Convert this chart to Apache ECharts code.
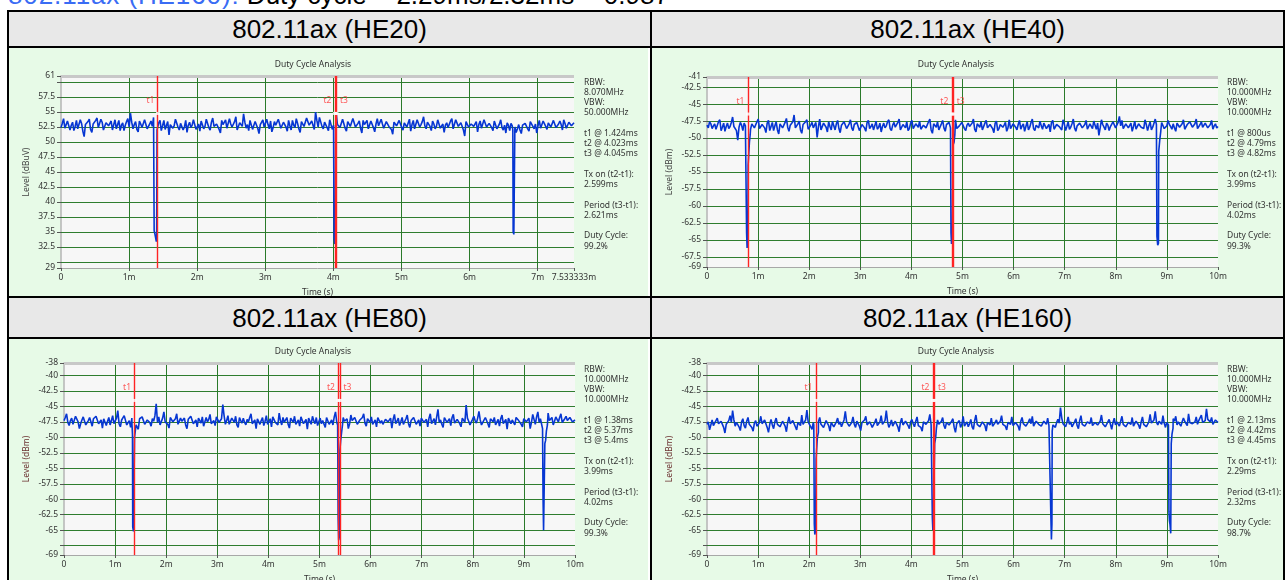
<!DOCTYPE html>
<html><head><meta charset="utf-8">
<script src="https://cdn.jsdelivr.net/npm/echarts@6/dist/echarts.min.js"></script>
<style>
html,body{margin:0;padding:0;background:#fff;}
#wrap{position:relative;width:1286px;height:580px;overflow:hidden;background:#fff;}
.ln{position:absolute;background:#000;}
.hdr{position:absolute;background:#e8e8e8;font:26px 'Liberation Sans',Arial,sans-serif;color:#000;text-align:center;}
.pnl{position:absolute;background:#e7fae7;}
#top{position:absolute;left:8px;top:-18px;font:26px 'Liberation Sans',Arial,sans-serif;line-height:26px;white-space:nowrap;color:#000;}
#top span{color:#3a6cf4;letter-spacing:0.9px;}
#c{position:absolute;left:0;top:0;width:1286px;height:580px;}
</style>
</head><body>
<div id="wrap">
  <div id="top"><span>802.11ax (HE160):</span> Duty cycle = 2.29ms/2.32ms = 0.987</div>
  <div class="hdr" style="left:9px;top:12px;width:641px;height:34px;line-height:34px;">802.11ax (HE20)</div>
  <div class="hdr" style="left:652px;top:12px;width:631px;height:34px;line-height:34px;">802.11ax (HE40)</div>
  <div class="hdr" style="left:9px;top:298px;width:641px;height:39px;line-height:40px;">802.11ax (HE80)</div>
  <div class="hdr" style="left:652px;top:298px;width:631px;height:39px;line-height:40px;">802.11ax (HE160)</div>
  <div class="pnl" style="left:9px;top:48px;width:639px;height:248px;"></div>
  <div class="pnl" style="left:652px;top:48px;width:631px;height:248px;"></div>
  <div class="pnl" style="left:9px;top:339px;width:639px;height:241px;"></div>
  <div class="pnl" style="left:652px;top:339px;width:631px;height:241px;"></div>
  <div class="ln" style="left:7px;top:10px;width:2px;height:570px;"></div>
  <div class="ln" style="left:650px;top:10px;width:2px;height:570px;"></div>
  <div class="ln" style="left:1283px;top:10px;width:2px;height:570px;"></div>
  <div class="ln" style="left:7px;top:10px;width:1278px;height:2px;"></div>
  <div class="ln" style="left:7px;top:46px;width:1278px;height:2px;"></div>
  <div class="ln" style="left:7px;top:296px;width:1278px;height:2px;"></div>
  <div class="ln" style="left:7px;top:337px;width:1278px;height:2px;"></div>
  <div id="c"></div>
</div>
<script>
// ---------- DATA ----------
// Each trace: even samples (…Level) and the odd samples between them (…LevelB)
const he20Span = 7.533333;
const he20Level = [
52.4,53.9,52.1,53.4,52.8,51.9,53.6,52.5,53.1,50.9,
52.7,53.8,51.6,52.9,54.0,52.3,53.3,51.8,53.5,52.6,
52.0,53.7,52.4,51.9,53.2,52.8,53.9,54.8,52.2,53.4,
51.7,53.0,52.5,53.8,52.1,53.5,54.1,52.6,53.2,51.9,
53.6,52.3,51.2,53.1,52.7,53.9,52.0,53.4,52.5,51.6,
53.3,52.8,53.9,52.2,51.8,53.5,52.6,53.1,52.0,54.0,
52.4,53.3,51.5,52.9,53.7,52.3,53.0,52.6,54.2,52.1,
53.5,54.7,52.3,51.9,53.4,52.8,53.6,51.4,53.0,52.5,
53.8,52.2,51.7,53.4,52.6,53.9,52.0,53.2,51.8,52.7,
53.6,52.4,53.1,51.6,53.5,52.3,54.1,52.7,53.3,55.0,
52.5,53.8,52.2,53.0,51.9,53.4,52.8,54.9,53.2,52.4,
53.7,51.8,53.1,52.6,54.0,52.2,53.5,51.5,52.9,53.6,
52.3,53.2,51.7,53.9,52.5,53.0,52.1,53.7,52.8,51.3,
53.4,52.6,53.9,52.0,53.3,52.7,51.8,53.6,52.4,53.1,
52.9,54.2,52.2,53.5,51.9,53.0,52.6,53.8,52.3,51.6,
53.2,52.7,53.9,52.1,53.4,52.5,53.0,51.0,53.6,52.4,
53.1,52.8,51.7,53.5,52.2,53.8,52.6,53.2,51.9,53.4,
52.3,53.7,52.0,51.5,52.8,53.1,52.4,51.6,52.9,51.4,
52.6,53.0,51.8,53.3,52.2,51.5,53.6,52.4,53.8,52.1,
53.2,52.7,53.9,52.3,53.5,52.0,53.1,52.6,53.4,52.8];
const he20LevelB = [
53.1,52.3,53.5,52.0,53.3,52.6,52.2,53.7,51.8,52.9,
53.4,52.1,53.0,53.6,52.4,53.8,52.0,53.2,52.7,53.5,
52.9,52.2,53.6,52.8,51.9,53.4,52.5,53.3,52.9,52.1,
53.5,52.4,53.7,52.2,53.0,52.6,53.2,51.8,53.6,52.7,
52.1,53.4,52.9,52.3,53.8,52.5,53.1,52.0,53.6,52.8,
52.4,53.7,52.1,53.0,53.5,52.2,53.8,52.4,53.3,52.6,
53.0,52.1,53.6,52.7,52.3,53.9,52.5,53.4,52.0,53.2,
52.6,53.3,52.9,53.6,52.1,53.4,52.3,52.9,53.7,52.2,
52.9,53.5,52.4,52.8,53.8,52.3,53.3,52.5,53.6,52.0,
52.8,53.9,52.2,53.4,52.6,54.0,52.8,53.5,52.1,53.6,
54.1,52.6,53.3,52.4,53.7,52.1,53.5,52.9,52.4,53.8,
52.3,53.4,52.6,53.9,52.5,53.1,52.3,53.6,52.8,52.2,
53.5,52.4,53.0,52.7,53.8,52.3,53.4,52.6,52.1,53.3,
52.7,53.6,52.4,53.2,52.5,53.8,52.9,52.2,53.7,52.5,
53.4,52.7,53.3,52.6,53.5,52.2,53.7,52.3,53.0,52.8,
52.4,53.5,52.2,53.7,52.6,53.2,52.0,53.4,52.5,53.0,
52.6,53.4,52.9,52.3,53.7,52.5,53.1,52.4,53.5,52.2,
53.0,52.4,52.8,53.2,51.9,52.7,53.0,52.2,52.0,52.8,
53.1,52.2,53.4,52.6,53.0,52.7,52.3,53.5,52.6,53.2,
52.5,53.6,52.4,53.0,52.9,53.7,52.3,53.3,52.7,53.2];
const he20Dips = [
 [[1.36,52.5],[1.368,35.2],[1.38,34.6],[1.40,33.4],[1.405,33.8],[1.41,52.0]],
 [[4.005,52.5],[4.01,34.0],[4.02,33.0],[4.03,33.5],[4.035,53.5]],
 [[6.635,52.0],[6.64,35.0],[6.65,34.6],[6.66,34.3],[6.665,52.5]]
];
const he20Markers = [1.424, 4.023, 4.045];
const he20YRange = [29, 61];
const he20YLabels = [29,32.5,35,37.5,40,42.5,45,47.5,50,52.5,55,57.5,61];
const he20YTicks = [29,30,32.5,35,37.5,40,42.5,45,47.5,50,52.5,55,57.5,60,61];
const he20YGrid = [30,32.5,35,37.5,40,42.5,45,47.5,50,52.5,55,57.5,60];
const he20XLabels = [0,1,2,3,4,5,6,7,7.533333];
const he20XGrid = [1,2,3,4,5,6,7];
const he20Info = ['RBW:','8.070MHz','VBW:','50.000MHz','','t1 @ 1.424ms','t2 @ 4.023ms','t3 @ 4.045ms','','Tx on (t2-t1):','2.599ms','','Period (t3-t1):','2.621ms','','Duty Cycle:','99.2%'];

const he40Span = 10;
const he40Level = [
-48.1,-47.6,-48.6,-47.9,-48.8,-47.3,-48.4,-49.0,-47.8,-48.3,
-46.9,-48.5,-50.3,-47.7,-48.9,-48.2,-47.5,-48.7,-48.0,-48.4,
-47.2,-48.8,-47.9,-49.2,-47.4,-48.3,-48.9,-47.6,-49.4,-47.8,
-48.6,-47.1,-49.0,-48.2,-46.6,-48.7,-47.5,-49.3,-48.0,-47.3,
-48.9,-47.7,-48.4,-49.9,-47.2,-48.6,-47.9,-49.1,-48.3,-47.5,
-48.8,-47.4,-49.2,-48.0,-47.7,-48.5,-47.3,-48.9,-48.2,-47.6,
-48.7,-47.9,-49.0,-47.4,-48.3,-48.8,-47.5,-48.4,-49.1,-47.8,
-48.2,-47.3,-48.9,-47.7,-48.5,-47.2,-49.0,-48.1,-47.6,-48.6,
-47.4,-48.8,-48.0,-47.5,-48.9,-47.9,-48.3,-47.2,-49.3,-48.1,
-47.6,-48.7,-47.4,-49.0,-48.2,-47.7,-48.6,-47.3,-48.8,-48.0,
-47.5,-48.9,-47.8,-48.4,-47.2,-49.1,-48.0,-47.6,-48.7,-47.4,
-48.3,-47.9,-49.2,-47.5,-48.6,-47.8,-48.1,-49.0,-47.3,-48.5,
-47.7,-48.8,-47.4,-48.2,-49.0,-47.6,-48.4,-47.2,-48.9,-48.0,
-47.5,-48.7,-47.9,-48.3,-49.1,-47.4,-48.6,-47.8,-48.2,-47.3,
-48.9,-47.6,-48.4,-47.2,-49.0,-48.1,-47.7,-48.6,-47.4,-48.8,
-48.0,-47.5,-48.7,-49.6,-47.3,-48.4,-47.8,-48.9,-48.1,-47.6,
-48.5,-46.8,-47.4,-48.8,-47.7,-48.3,-49.0,-47.5,-48.6,-47.9,
-48.2,-47.3,-48.9,-47.6,-48.4,-47.2,-48.7,-48.0,-47.5,-48.8,
-47.4,-48.3,-47.9,-49.0,-47.6,-48.5,-47.3,-48.7,-48.1,-47.7,
-48.4,-47.2,-48.8,-47.6,-48.3,-47.9,-48.6,-47.4,-48.2,-48.5];
const he40LevelB = [
-48.5,-47.9,-48.2,-48.7,-47.6,-48.9,-47.8,-48.3,-48.6,-47.7,
-48.3,-48.9,-48.4,-48.1,-47.8,-48.6,-48.9,-47.9,-48.5,-47.6,
-48.6,-48.0,-48.5,-47.8,-48.9,-47.7,-48.2,-48.8,-47.9,-48.5,
-47.7,-48.4,-48.1,-47.6,-48.5,-47.9,-48.8,-48.0,-47.6,-48.7,
-48.1,-48.5,-47.7,-48.3,-48.8,-47.8,-48.4,-47.6,-48.8,-48.2,
-47.9,-48.6,-48.1,-47.6,-48.6,-47.9,-48.5,-48.0,-47.7,-48.9,
-48.0,-48.5,-47.7,-48.6,-47.9,-48.2,-48.7,-47.8,-48.3,-48.5,
-47.6,-48.6,-48.1,-48.4,-47.7,-48.8,-48.0,-48.5,-48.9,-47.8,
-48.6,-47.9,-48.4,-48.7,-48.1,-48.5,-47.6,-48.8,-47.9,-48.4,
-48.8,-47.9,-48.5,-48.0,-47.7,-48.5,-47.8,-48.6,-48.2,-47.7,
-48.6,-48.1,-48.3,-47.8,-48.7,-47.9,-48.4,-48.8,-47.8,-48.5,
-48.0,-48.6,-47.8,-48.9,-48.0,-48.4,-47.7,-48.5,-48.6,-47.9,
-48.4,-48.0,-48.7,-47.9,-48.3,-48.8,-47.7,-48.6,-48.1,-48.5,
-48.2,-47.8,-48.6,-48.0,-47.7,-48.7,-48.0,-48.3,-48.8,-47.9,
-48.3,-48.7,-47.9,-48.5,-48.2,-47.8,-48.5,-48.0,-48.7,-47.9,
-48.6,-48.1,-47.8,-48.5,-48.0,-48.8,-48.1,-48.3,-47.6,-48.5,
-47.7,-48.2,-48.6,-47.9,-48.5,-47.8,-48.3,-48.7,-47.9,-48.4,
-48.6,-48.0,-48.2,-48.8,-47.8,-48.6,-48.1,-47.7,-48.6,-48.2,
-48.0,-48.7,-48.5,-47.8,-48.4,-47.9,-48.7,-48.0,-47.6,-48.4,
-47.9,-48.6,-48.0,-48.4,-47.8,-48.5,-48.0,-48.7,-47.9,-48.3];
const he40Dips = [
 [[0.765,-48.4],[0.775,-64.0],[0.785,-66.2],[0.80,-65.0],[0.805,-54.0],[0.82,-53.8],[0.83,-50.6],[0.845,-49.5]],
 [[4.765,-48.5],[4.775,-64.0],[4.785,-65.6],[4.80,-65.4],[4.805,-64.0],[4.815,-51.0],[4.835,-50.6],[4.85,-49.5]],
 [[8.795,-48.0],[8.805,-64.5],[8.82,-65.8],[8.835,-65.5],[8.84,-52.0],[8.86,-50.3],[8.88,-49.0]]
];
const he40Markers = [0.8, 4.79, 4.82];
const he40YRange = [-69, -41];
const he40YLabels = [-69,-67.5,-65,-62.5,-60,-57.5,-55,-52.5,-50,-47.5,-45,-42.5,-41];
const he40YTicks = he40YLabels;
const he40YGrid = [-67.5,-65,-62.5,-60,-57.5,-55,-52.5,-50,-47.5,-45,-42.5];
const he40XLabels = [0,1,2,3,4,5,6,7,8,9,10];
const he40XGrid = [1,2,3,4,5,6,7,8,9];
const he40Info = ['RBW:','10.000MHz','VBW:','10.000MHz','','t1 @ 800us','t2 @ 4.79ms','t3 @ 4.82ms','','Tx on (t2-t1):','3.99ms','','Period (t3-t1):','4.02ms','','Duty Cycle:','99.3%'];

const he80Span = 10;
const he80Level = [
-47.3,-46.2,-48.1,-46.9,-47.8,-46.4,-48.6,-47.2,-46.6,-47.9,
-46.8,-48.2,-47.1,-46.3,-47.7,-48.5,-46.9,-47.4,-48.0,-46.5,
-47.6,-45.7,-48.3,-47.0,-46.6,-47.9,-48.4,-46.8,-47.5,-48.7,
-47.2,-46.4,-47.8,-46.9,-48.2,-47.4,-44.6,-46.7,-47.9,-45.9,
-47.3,-48.5,-46.8,-47.6,-46.2,-48.1,-47.4,-46.9,-48.6,-47.1,
-46.5,-47.8,-48.3,-47.0,-46.7,-48.4,-47.5,-46.3,-47.9,-48.1,
-46.8,-47.4,-44.7,-47.9,-46.5,-48.2,-47.1,-46.6,-48.4,-47.3,
-46.9,-48.0,-47.5,-46.2,-47.8,-48.6,-46.7,-47.3,-48.1,-46.5,
-47.7,-48.3,-46.9,-47.4,-46.1,-48.0,-47.6,-46.8,-48.5,-47.2,
-46.6,-47.9,-48.2,-46.4,-47.5,-48.7,-47.0,-46.6,-47.8,-48.1,
-46.9,-47.3,-48.4,-46.5,-47.7,-48.0,-45.9,-47.2,-48.3,-46.8,
-47.6,-48.6,-46.4,-47.4,-46.9,-48.1,-47.5,-46.2,-48.2,-47.0,
-46.7,-47.8,-48.3,-46.5,-47.3,-48.0,-46.9,-47.6,-48.5,-46.3,
-47.4,-48.1,-46.8,-47.7,-46.4,-48.4,-47.1,-46.6,-47.9,-48.2,
-46.9,-47.5,-48.3,-46.2,-47.6,-48.0,-45.5,-47.2,-48.4,-46.7,
-47.5,-48.1,-46.3,-47.8,-46.9,-48.3,-47.0,-44.8,-47.4,-48.2,
-46.6,-47.7,-45.8,-48.0,-47.3,-46.5,-48.4,-47.1,-46.8,-47.9,
-48.2,-46.4,-47.6,-48.7,-46.9,-47.2,-48.0,-46.6,-47.5,-48.3,
-46.8,-47.4,-48.6,-46.3,-47.9,-45.9,-47.0,-46.5,-47.8,-46.1,
-47.3,-48.0,-46.7,-47.5,-46.2,-47.9,-46.6,-47.4,-46.9,-47.7];
const he80LevelB = [
-46.8,-47.6,-47.3,-47.9,-46.6,-47.5,-47.8,-46.7,-48.0,-47.3,
-47.5,-47.0,-46.6,-47.8,-47.2,-47.0,-48.1,-46.8,-47.3,-47.8,
-46.9,-47.8,-47.2,-46.5,-48.0,-47.3,-46.9,-47.7,-48.1,-47.0,
-46.7,-47.9,-47.2,-47.6,-47.0,-46.5,-47.6,-48.0,-46.9,-47.5,
-47.9,-46.8,-47.5,-47.0,-47.9,-46.9,-47.7,-48.0,-47.1,-46.6,
-47.8,-47.2,-46.9,-47.7,-48.2,-46.8,-47.1,-47.8,-47.3,-46.7,
-47.6,-47.0,-46.5,-47.3,-47.9,-46.9,-47.6,-48.0,-46.8,-47.7,
-47.6,-47.1,-46.8,-47.8,-47.2,-47.0,-47.9,-46.8,-47.4,-47.9,
-47.0,-46.7,-47.6,-48.0,-47.3,-46.8,-47.4,-47.9,-46.9,-47.6,
-47.9,-47.2,-46.7,-47.8,-47.1,-46.9,-47.9,-47.3,-46.8,-47.5,
-47.8,-47.0,-46.8,-47.9,-47.2,-46.7,-47.6,-47.9,-46.9,-47.4,
-47.0,-47.8,-47.3,-46.8,-47.9,-47.2,-46.8,-47.7,-47.0,-47.6,
-47.9,-47.2,-46.8,-47.7,-47.9,-47.1,-47.5,-46.9,-47.1,-47.8,
-46.9,-47.5,-47.9,-47.0,-47.8,-47.3,-46.8,-47.9,-47.2,-46.9,
-47.6,-47.1,-46.9,-47.8,-47.0,-46.7,-47.6,-47.9,-46.8,-47.6,
-47.0,-46.8,-47.7,-47.1,-47.8,-46.9,-47.6,-46.9,-48.0,-47.1,
-47.3,-46.9,-47.2,-47.6,-46.8,-47.8,-47.0,-47.5,-48.0,-47.1,
-47.0,-47.8,-47.1,-46.9,-47.8,-47.5,-46.8,-47.3,-47.9,-47.0,
-47.5,-46.9,-47.6,-47.1,-46.7,-47.6,-47.3,-47.9,-46.9,-47.3,
-46.8,-47.4,-47.1,-46.8,-47.6,-47.0,-47.3,-46.8,-47.5,-47.2];
const he80Dips = [
 [[1.33,-47.8],[1.34,-49.5],[1.345,-64.5],[1.36,-65.2],[1.375,-65.5],[1.38,-50.0],[1.395,-49.0],[1.41,-48.0]],
 [[5.355,-48.0],[5.365,-63.0],[5.375,-66.6],[5.39,-66.0],[5.40,-52.0],[5.415,-50.5],[5.435,-49.0],[5.45,-48.0]],
 [[9.365,-48.6],[9.375,-60.0],[9.385,-65.0],[9.40,-64.8],[9.41,-51.0],[9.425,-50.5],[9.44,-49.0],[9.46,-48.0]]
];
const he80Markers = [1.38, 5.37, 5.4];
const he80YRange = [-69, -38];
const he80YLabels = [-69,-65,-62.5,-60,-57.5,-55,-52.5,-50,-47.5,-45,-42.5,-40,-38];
const he80YTicks = [-69,-67.5,-65,-62.5,-60,-57.5,-55,-52.5,-50,-47.5,-45,-42.5,-40,-38];
const he80YGrid = [-67.5,-65,-62.5,-60,-57.5,-55,-52.5,-50,-47.5,-45,-42.5,-40];
const he80XLabels = [0,1,2,3,4,5,6,7,8,9,10];
const he80XGrid = [1,2,3,4,5,6,7,8,9];
const he80Info = ['RBW:','10.000MHz','VBW:','10.000MHz','','t1 @ 1.38ms','t2 @ 5.37ms','t3 @ 5.4ms','','Tx on (t2-t1):','3.99ms','','Period (t3-t1):','4.02ms','','Duty Cycle:','99.3%'];

const he160Span = 10;
const he160Level = [
-47.9,-48.8,-47.2,-48.4,-46.9,-48.1,-47.5,-49.3,-47.8,-46.5,
-45.7,-48.2,-47.4,-48.9,-47.0,-48.5,-46.8,-47.9,-49.0,-47.3,
-48.3,-46.6,-48.0,-47.5,-49.2,-47.1,-48.6,-46.9,-47.8,-48.4,
-47.2,-49.1,-46.7,-48.0,-47.6,-48.8,-47.3,-46.4,-48.2,-45.6,
-47.9,-48.7,-47.1,-48.3,-46.8,-47.6,-48.5,-47.4,-49.0,-47.8,
-48.2,-46.9,-47.5,-48.6,-45.8,-47.7,-48.1,-46.7,-48.4,-47.3,
-48.9,-47.6,-46.6,-48.2,-47.9,-48.7,-47.0,-48.3,-46.5,-47.8,
-45.7,-48.4,-47.2,-48.0,-47.6,-49.1,-46.9,-48.2,-47.5,-48.6,
-47.1,-48.3,-46.7,-47.9,-49.0,-47.4,-48.1,-46.3,-47.7,-48.5,
-47.2,-48.0,-46.8,-48.6,-47.5,-48.2,-47.0,-49.2,-47.6,-48.4,
-46.6,-47.9,-48.3,-47.1,-48.7,-46.4,-47.8,-48.1,-47.3,-49.0,
-47.7,-46.9,-48.4,-47.2,-48.0,-46.5,-47.6,-48.8,-47.4,-46.7,
-48.2,-47.5,-48.9,-46.8,-47.7,-48.3,-47.0,-46.6,-48.1,-47.4,
-47.9,-48.5,-47.2,-46.9,-48.0,-47.6,-48.4,-47.1,-45.2,-47.8,
-48.3,-46.7,-47.5,-48.1,-47.0,-48.6,-46.5,-47.9,-48.2,-47.3,
-46.8,-48.4,-47.6,-48.0,-46.4,-47.7,-48.3,-47.1,-48.7,-46.9,
-47.5,-48.2,-46.6,-47.9,-48.5,-47.3,-46.8,-48.1,-47.4,-48.6,
-46.7,-47.8,-48.3,-46.3,-47.6,-45.8,-48.0,-47.2,-46.5,-48.4,
-47.8,-49.1,-47.0,-46.6,-47.5,-48.2,-46.9,-47.7,-46.2,-47.4,
-48.0,-46.7,-47.3,-46.4,-47.9,-45.4,-47.1,-46.8,-47.6,-47.2];
const he160LevelB = [
-47.5,-48.0,-48.1,-47.3,-47.8,-47.4,-48.4,-47.9,-47.3,-47.6,
-47.2,-47.6,-48.3,-47.5,-48.1,-47.4,-47.9,-48.4,-47.7,-48.2,
-47.6,-47.8,-47.2,-48.4,-47.9,-48.0,-47.5,-47.9,-48.3,-47.4,
-48.2,-47.6,-47.8,-47.3,-48.3,-47.6,-48.1,-47.9,-47.2,-47.5,
-48.3,-47.6,-48.0,-47.5,-47.9,-48.4,-47.3,-48.1,-47.6,-48.3,
-47.5,-47.9,-48.3,-47.2,-47.5,-48.2,-47.6,-47.9,-47.4,-48.2,
-47.6,-47.2,-48.0,-47.5,-48.4,-47.6,-48.1,-47.5,-47.9,-47.3,
-47.5,-47.9,-48.2,-47.4,-48.3,-47.6,-48.0,-47.4,-48.1,-47.5,
-47.8,-47.4,-48.1,-48.4,-47.5,-47.9,-47.3,-48.0,-48.3,-47.6,
-47.9,-47.4,-48.1,-47.6,-48.0,-47.4,-48.4,-47.8,-47.3,-47.9,
-48.2,-47.5,-47.8,-48.3,-47.3,-47.9,-48.3,-47.5,-48.1,-47.6,
-48.0,-48.2,-47.6,-47.9,-47.4,-47.9,-48.2,-47.6,-47.9,-48.1,
-47.6,-48.2,-47.4,-47.8,-48.2,-47.5,-47.8,-48.2,-47.4,-47.9,
-48.2,-47.4,-47.9,-48.1,-47.4,-48.2,-47.6,-47.7,-46.9,-48.1,
-47.6,-47.9,-48.3,-47.5,-48.1,-47.3,-47.9,-48.2,-47.5,-47.8,
-48.1,-47.6,-48.0,-47.4,-47.8,-48.3,-47.5,-47.9,-47.6,-48.0,
-47.8,-47.4,-47.9,-48.3,-47.6,-47.9,-48.2,-47.4,-48.0,-47.5,
-47.9,-48.3,-47.5,-47.7,-47.2,-47.6,-47.4,-47.9,-47.7,-47.6,
-48.2,-47.6,-47.4,-48.0,-47.8,-47.5,-47.4,-48.1,-47.6,-47.8,
-47.5,-47.9,-47.0,-47.6,-47.3,-47.1,-47.5,-47.9,-47.2,-47.6];
const he160Dips = [
 [[2.09,-48.0],[2.10,-64.0],[2.11,-65.7],[2.125,-65.0],[2.135,-53.5],[2.15,-53.2],[2.16,-50.0],[2.18,-49.2]],
 [[4.40,-48.0],[4.41,-63.0],[4.42,-65.0],[4.43,-64.0],[4.44,-64.0],[4.455,-51.0],[4.475,-50.0],[4.49,-48.5]],
 [[6.72,-48.0],[6.73,-63.0],[6.74,-66.5],[6.75,-64.0],[6.755,-49.0],[6.77,-48.0]],
 [[9.03,-48.0],[9.04,-62.0],[9.05,-63.5],[9.06,-64.0],[9.075,-65.5],[9.085,-51.0],[9.10,-49.5],[9.12,-48.5]]
];
const he160Markers = [2.13, 4.42, 4.45];
const he160YRange = [-69, -38];
const he160YLabels = he80YLabels;
const he160YTicks = he80YTicks;
const he160YGrid = he80YGrid;
const he160XLabels = [0,1,2,3,4,5,6,7,8,9,10];
const he160XGrid = [1,2,3,4,5,6,7,8,9];
const he160Info = ['RBW:','10.000MHz','VBW:','10.000MHz','','t1 @ 2.13ms','t2 @ 4.42ms','t3 @ 4.45ms','','Tx on (t2-t1):','2.29ms','','Period (t3-t1):','2.32ms','','Duty Cycle:','98.7%'];

const markerNames = ['t1','t2','t3'];
const chartTitle = 'Duty Cycle Analysis';

// ---------- LAYOUT ----------
const FONT = "'Noto Sans', 'DejaVu Sans', sans-serif";
const panels = [
 {a:he20Level, b:he20LevelB, span:he20Span, dips:he20Dips, markers:he20Markers, yr:he20YRange, yl:he20YLabels, yt:he20YTicks, yg:he20YGrid, xl:he20XLabels, xg:he20XGrid, info:he20Info,
  yName:'Level (dBuV)', yNameColor:'#444', grid:{left:61,top:76,width:513,height:192}, nameGap:30, titlePos:[313,65], infoPos:[584,77]},
 {a:he40Level, b:he40LevelB, span:he40Span, dips:he40Dips, markers:he40Markers, yr:he40YRange, yl:he40YLabels, yt:he40YTicks, yg:he40YGrid, xl:he40XLabels, xg:he40XGrid, info:he40Info,
  yName:'Level (dBm)', yNameColor:'#444', grid:{left:707,top:77,width:511,height:190}, nameGap:33, titlePos:[956,65], infoPos:[1227,77]},
 {a:he80Level, b:he80LevelB, span:he80Span, dips:he80Dips, markers:he80Markers, yr:he80YRange, yl:he80YLabels, yt:he80YTicks, yg:he80YGrid, xl:he80XLabels, xg:he80XGrid, info:he80Info,
  yName:'Level (dBm)', yNameColor:'#6b3030', grid:{left:64,top:363,width:511,height:192}, nameGap:33, titlePos:[313,352], infoPos:[584,364]},
 {a:he160Level, b:he160LevelB, span:he160Span, dips:he160Dips, markers:he160Markers, yr:he160YRange, yl:he160YLabels, yt:he160YTicks, yg:he160YGrid, xl:he160XLabels, xg:he160XGrid, info:he160Info,
  yName:'Level (dBm)', yNameColor:'#6b3030', grid:{left:707,top:363,width:511,height:192}, nameGap:33, titlePos:[956,352], infoPos:[1227,364]}
];

function buildTrace(a, b, span, dips) {
  const level = [];
  for (let i = 0; i < a.length; i++) { level.push(a[i]); if (i < b.length) level.push(b[i]); }
  const n = level.length;
  let pts = level.map((v, i) => [i * span / (n - 1), v]);
  dips.forEach(d => {
    const lo = d[0][0], hi = d[d.length - 1][0];
    pts = pts.filter(p => p[0] < lo || p[0] > hi);
    pts = pts.concat(d);
  });
  pts.sort((p, q) => p[0] - q[0]);
  return pts;
}

const grids = [], xAxes = [], yAxes = [], series = [], graphics = [];
panels.forEach((p, k) => {
  grids.push(Object.assign({show:true, backgroundColor:'#f7f7f7', borderWidth:0, containLabel:false, outerBoundsMode:'none'}, p.grid));
  xAxes.push({
    gridIndex:k, type:'value', min:0, max:p.span,
    axisLine:{show:true, onZero:false, lineStyle:{color:'#a8a8a8', width:1}},
    axisTick:{show:true, customValues:p.xl, length:3, lineStyle:{color:'#555'}},
    axisLabel:{customValues:p.xl, formatter:v => (v === 0 ? '0' : v + 'm'), fontSize:8.5, color:'#333', margin:5, fontFamily:FONT},
    splitLine:{show:false},
    name:'Time (s)', nameLocation:'middle', nameGap:20, nameTextStyle:{fontSize:8.5, color:'#333', fontFamily:FONT}
  });
  yAxes.push({
    gridIndex:k, type:'value', min:p.yr[0], max:p.yr[1],
    axisLine:{show:true, onZero:false, lineStyle:{color:'#b4b4b4', width:1.5}},
    axisTick:{show:true, customValues:p.yt, length:4, lineStyle:{color:'#555'}},
    axisLabel:{customValues:p.yl, fontSize:8.5, color:'#333', margin:6, fontFamily:FONT},
    splitLine:{show:false},
    name:p.yName, nameLocation:'middle', nameGap:p.nameGap, nameRotate:90,
    nameTextStyle:{fontSize:8.5, color:p.yNameColor, fontFamily:FONT}
  });
  const ymin = p.yr[0], ymax = p.yr[1], rng = ymax - ymin;
  series.push({
    type:'line', xAxisIndex:k, yAxisIndex:k, data:[[0, ymin]], showSymbol:false, silent:true,
    lineStyle:{opacity:0}, z:1,
    markLine:{silent:true, z:1, symbol:['none','none'], label:{show:false}, animation:false,
      lineStyle:{color:'#2f7d2f', width:1, type:'solid'}, emphasis:{disabled:true},
      data: p.yg.map(v => ({yAxis:v}))
        .concat(p.xg.map(v => ({xAxis:v, lineStyle:{color:'#2a7a2a', width:1, type:'solid'}})))
        .concat([{yAxis:ymax, lineStyle:{color:'#c8c8c8', width:3, type:'solid'}}])
    }
  });
  series.push({
    type:'line', xAxisIndex:k, yAxisIndex:k, data:buildTrace(p.a, p.b, p.span, p.dips),
    showSymbol:false, silent:true, z:3, lineStyle:{color:'#0636d2', width:1.6}
  });
  series.push({
    type:'scatter', xAxisIndex:k, yAxisIndex:k, silent:true, z:6, symbolSize:1,
    itemStyle:{color:'rgba(0,0,0,0)'},
    data: p.markers.map((t, j) => ({value:[t, ymax - 0.13 * rng], name:markerNames[j],
      label:{position: j === 2 ? 'right' : 'left'}})),
    label:{show:true, formatter:'{b}', color:'#ff3030', fontSize:8.5, distance:3, fontFamily:FONT},
    markLine:{silent:true, z:5, symbol:['none','none'], label:{show:false}, animation:false,
      lineStyle:{color:'#ff2424', width:1.4, type:'solid'}, emphasis:{disabled:true},
      data: p.markers.map(t => ({xAxis:t}))}
  });
  series.push({
    type:'scatter', xAxisIndex:k, yAxisIndex:k, silent:true, z:7, symbol:'rect', symbolSize:[4,3],
    itemStyle:{color:'#ffffff'},
    data: p.markers.map(t => [t, ymax - 0.195 * rng])
  });
  graphics.push({type:'text', x:p.titlePos[0], y:p.titlePos[1], silent:true,
    style:{text:chartTitle, fill:'#333', font:'8.5px ' + FONT, align:'center', verticalAlign:'middle'}});
  graphics.push({type:'text', x:p.infoPos[0], y:p.infoPos[1], silent:true,
    style:{text:p.info.join('\n'), fill:'#333', font:'8.5px ' + FONT, lineHeight:10.25, align:'left', verticalAlign:'top'}});
});

const chart = echarts.init(document.getElementById('c'), null, {renderer:'canvas'});
chart.setOption({
  animation:false,
  backgroundColor:'transparent',
  textStyle:{fontFamily:FONT},
  grid:grids, xAxis:xAxes, yAxis:yAxes, series:series, graphic:graphics
});
</script>
</body></html>
